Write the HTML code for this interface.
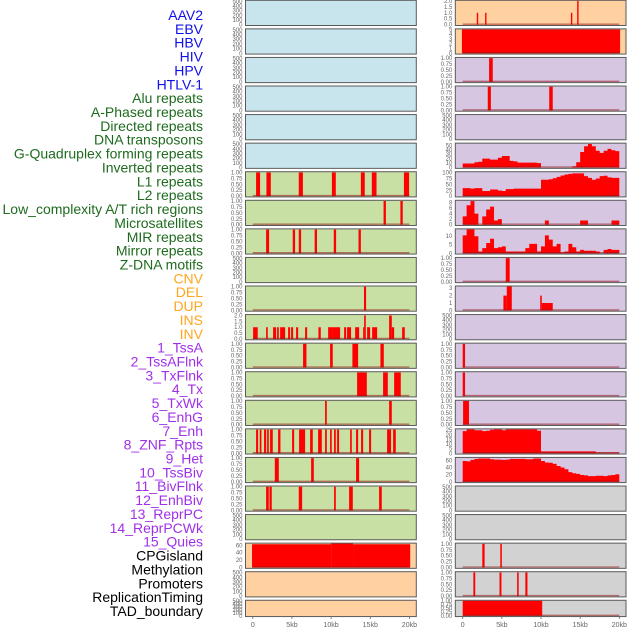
<!DOCTYPE html>
<html><head><meta charset="utf-8">
<style>
html,body{margin:0;padding:0;background:#fff;}
svg{display:block;font-family:"Liberation Sans",sans-serif;}
</style></head>
<body>
<svg id="chart" width="630" height="630" viewBox="0 0 630 630" xmlns="http://www.w3.org/2000/svg"></svg>
<script>
// ---------- data ----------
const trackLabels = ["AAV2","EBV","HBV","HIV","HPV","HTLV-1","Alu repeats","A-Phased repeats","Directed repeats","DNA transposons","G-Quadruplex forming repeats","Inverted repeats","L1 repeats","L2 repeats","Low_complexity A/T rich regions","Microsatellites","MIR repeats","Mirror repeats","Z-DNA motifs","CNV","DEL","DUP","INS","INV","1_TssA","2_TssAFlnk","3_TxFlnk","4_Tx","5_TxWk","6_EnhG","7_Enh","8_ZNF_Rpts","9_Het","10_TssBiv","11_BivFlnk","12_EnhBiv","13_ReprPC","14_ReprPCWk","15_Quies","CPGisland","Methylation","Promoters","ReplicationTiming","TAD_boundary"];
const trackGroups = ["virus","virus","virus","virus","virus","virus","repeat","repeat","repeat","repeat","repeat","repeat","repeat","repeat","repeat","repeat","repeat","repeat","repeat","sv","sv","sv","sv","sv","chrom","chrom","chrom","chrom","chrom","chrom","chrom","chrom","chrom","chrom","chrom","chrom","chrom","chrom","chrom","other","other","other","other","other"];
const xTickValues = [0,5,10,15,20];
const xTickLabels = ["0","5kb","10kb","15kb","20kb"];

// interval tracks: starts (kb), ends (kb), values
const aluStarts=[0.42,1.74,5.87,10.1,13.8,15.2,19.3], aluEnds=[0.93,2.3,6.4,10.6,14.3,15.8,19.96], aluVals=[1,1,1,1,1,1,1];
const aphStarts=[16.7,18.85], aphEnds=[17.0,19.15], aphVals=[1,1];
const dirStarts=[1.7,5.1,5.87,7.9,10.34,13.5], dirEnds=[2.08,5.4,6.17,8.2,10.64,13.8], dirVals=[1,1,1,1,1,1];
const gqStarts=[14.2], gqEnds=[14.47], gqVals=[1];
const invrStarts=[0.04,1.70,2.59,3.10,3.49,4.51,4.89,5.53,6.68,8.38,9.62,10.17,11.66,12.04,13.07,14.09,14.22,14.6,15.24,17.41,17.75,19.07];
const invrEnds=[0.63,1.91,2.98,3.32,4.13,4.76,5.15,5.79,6.94,8.68,10.17,11.15,11.92,12.55,13.58,14.22,14.43,14.98,15.88,17.75,18.05,19.41];
const invrVals=[1,1,1,1,1,1,1,1,1,1,1,1,1,1,1,1,2,1,1,2,1,1];
const l1Starts=[6.42,9.87,12.72,16.3], l1Ends=[6.85,10.21,13.45,16.73], l1Vals=[1,1,1,1];
const l2Starts=[13.32,16.64,18.05], l2Ends=[14.56,17.24,18.9], l2Vals=[1,1,1];
const lowStarts=[9.23,17.41], lowEnds=[9.45,17.75], lowVals=[1,1];
const micStarts=[0.42,0.89,1.44,1.83,2.21,3.23,5.02,5.91,7.32,8.34,9.23,9.87,10.38,10.77,12.43,13.19,13.83,14.85,17.15,17.92];
const micEnds=[0.68,1.10,1.70,2.04,2.55,3.53,5.28,6.68,7.66,8.81,9.45,10.08,10.6,11.02,12.64,13.45,14.09,15.11,17.66,18.26];
const micVals=[1,1,1,1,1,1,1,1,1,1,1,1,1,1,1,1,1,1,1,1];
const mirStarts=[2.81,7.45,13.19], mirEnds=[3.32,7.79,13.58], mirVals=[1,1,1];
const mrrStarts=[1.7,2.13,5.87,10.38,12.3,16.13], mrrEnds=[2.04,2.42,6.3,10.6,12.77,16.47], mrrVals=[1,1,1,1,1,1];
const cnvStarts=[-0.1,10.0,12.8], cnvEnds=[10.0,12.8,20.1], cnvVals=[63,65,63];
const insStarts=[1.8,2.86,13.82,14.62], insEnds=[1.98,3.04,14.0,14.8], insVals=[1,1,1,2];
const invStarts=[-0.1], invEnds=[20.1], invVals=[5];
const tssaStarts=[3.37], tssaEnds=[3.84], tssaVals=[1];
const flnkStarts=[3.2,11.05], flnkEnds=[3.6,11.5], flnkVals=[1,1];
const znfStarts=[5.5], znfEnds=[6.0], znfVals=[1];
const hetStarts=[5.2,5.63,9.9,10.1], hetEnds=[5.63,6.27,10.1,11.5], hetVals=[2,3.3,2,1];
const bivStarts=[0.0], bivEnds=[0.3], bivVals=[1];
const enhbStarts=[0.0], enhbEnds=[0.3], enhbVals=[1];
const rpcStarts=[0.05], rpcEnds=[0.8], rpcVals=[1];
const promStarts=[2.5,4.8], promEnds=[2.8,5.0], promVals=[1,1];
const repStarts=[1.36,4.7,6.95,8.0], repEnds=[1.6,4.95,7.15,8.27], repVals=[1,1,1,1];
const tadStarts=[0.0], tadEnds=[10.15], tadVals=[1];

// binned tracks (0.5 kb bins starting at 0)
const txBins=[9,9,9,12,13,20,20,18,18,22,26,26,15,14,11,11,11,11,11,10,0,0,0,0,0,0,0,0,3,12,35,48,53,48,38,33,38,42,39,37];
const txwkBins=[34,34,32,34,34,22,22,28,28,24,22,30,30,32,32,32,32,32,32,32,70,70,72,76,82,88,92,95,97,97,97,85,78,70,75,85,87,80,78,78];
const enhgBins=[3,7,8.5,4,0,3,5.5,6.5,1.5,2,0,0,0,0,0,0,0,0,0,0,0,1.5,0,0,0,0,0,0,0,0,1.5,1.5,0,0,0,0,0,0,1.5,1.5];
const enhBins=[10.5,14,14,10,1,3,6,8.5,3,3.5,4,1,1,1,1,1,3,5.5,5.5,1,4,10.5,8,4,5.5,0.5,1,5.5,3.5,1,2,1.5,1.5,1.5,1,0,2,2.5,2,2];
const rpcwkBins=[24,26,26,25,25,24,24.5,25.5,26,26,25,26,26,26,26,26,26,26,26,24.5,2,2,2,2,2,2,2,2,2,2,2,2,2,2,0.8,0.8,0.8,0.8,0.8,0.8];
const quiesBins=[58,57,61,64,65,65,65,63,62,62,61,62,64,64,64,64,63,63,65,65,58,54,53,50,44,40,35,27,24,22,19,18,16,16,17,17,16,18,19,21];

// tick sets
const ticksEmpty=[0,100,200,300,400,500], ticksUnit=[0,0.25,0.5,0.75,1], ticksTwo=[0,0.5,1,1.5,2];
const ticksFive=[0,1,2,3,4,5], ticksTx=[0,10,20,30,40,50], ticksTxwk=[0,25,50,75,100], ticksEnhg=[0,2,4,6,8];
const ticksEnh=[0,5,10], ticksHet=[0,1,2,3], ticksRpcwk=[0,5,10,15,20,25], ticksSixty=[0,20,40,60];

// ---------- layout ----------
const svg=document.getElementById('chart');
const NS='http://www.w3.org/2000/svg';
function mk(tag,attrs,parent){const e=document.createElementNS(NS,tag);for(const k in attrs)e.setAttribute(k,attrs[k]);(parent||svg).appendChild(e);return e;}
const groupColor={virus:'#1010e8',repeat:'#1e6b1e',sv:'#ffa520',chrom:'#a030e8',other:'#000000'};
const bgColor={virus:'#c8e4ec',repeat:'#c8e0a4',sv:'#ffd0a0',chrom:'#d6c6e2',other:'#d2d2d2'};

// labels
for(let i=0;i<trackLabels.length;i++){
  const t=mk('text',{x:203,y:15+i*13.86+5,'text-anchor':'end','font-size':'14',fill:groupColor[trackGroups[i]]});
  
  
  t.textContent=trackLabels[i];
}

const cols=[{px0:245.5,px1:416.3,x0:252.8},{px0:455.3,px1:626,x0:462.7}];
const kbPx=7.83;
function xs(col,kb){return cols[col].x0+kb*kbPx;}

// panel specs: track index -> [ticks, ymax, type, data...]
const panelSpecs=[
 [ticksEmpty,520,'none'],[ticksEmpty,520,'none'],[ticksEmpty,520,'none'],[ticksEmpty,520,'none'],[ticksEmpty,520,'none'],[ticksEmpty,520,'none'],
 [ticksUnit,1.03,'iv',aluStarts,aluEnds,aluVals],
 [ticksUnit,1.03,'iv',aphStarts,aphEnds,aphVals],
 [ticksUnit,1.03,'iv',dirStarts,dirEnds,dirVals],
 [ticksEmpty,520,'none'],
 [ticksUnit,1.03,'iv',gqStarts,gqEnds,gqVals],
 [ticksTwo,2.08,'iv',invrStarts,invrEnds,invrVals],
 [ticksUnit,1.03,'iv',l1Starts,l1Ends,l1Vals],
 [ticksUnit,1.03,'iv',l2Starts,l2Ends,l2Vals],
 [ticksUnit,1.03,'iv',lowStarts,lowEnds,lowVals],
 [ticksUnit,1.03,'iv',micStarts,micEnds,micVals],
 [ticksUnit,1.03,'iv',mirStarts,mirEnds,mirVals],
 [ticksUnit,1.03,'iv',mrrStarts,mrrEnds,mrrVals],
 [ticksEmpty,520,'none'],
 [ticksSixty,66,'iv',cnvStarts,cnvEnds,cnvVals],
 [ticksEmpty,520,'none'],[ticksEmpty,520,'none'],
 [ticksTwo,2.05,'iv',insStarts,insEnds,insVals],
 [ticksFive,5.1,'iv',invStarts,invEnds,invVals],
 [ticksUnit,1.03,'iv',tssaStarts,tssaEnds,tssaVals],
 [ticksUnit,1.03,'iv',flnkStarts,flnkEnds,flnkVals],
 [ticksEmpty,520,'none'],
 [ticksTx,55,'bin',txBins],
 [ticksTxwk,104,'bin',txwkBins],
 [ticksEnhg,8.8,'bin',enhgBins],
 [ticksEnh,14.3,'bin',enhBins],
 [ticksUnit,1.03,'iv',znfStarts,znfEnds,znfVals],
 [ticksHet,3.3,'iv',hetStarts,hetEnds,hetVals],
 [ticksEmpty,520,'none'],
 [ticksUnit,1.03,'iv',bivStarts,bivEnds,bivVals],
 [ticksUnit,1.03,'iv',enhbStarts,enhbEnds,enhbVals],
 [ticksUnit,1.03,'iv',rpcStarts,rpcEnds,rpcVals],
 [ticksRpcwk,26.5,'bin',rpcwkBins],
 [ticksSixty,68,'bin',quiesBins],
 [ticksEmpty,520,'none'],[ticksEmpty,520,'none'],
 [ticksUnit,1.03,'iv',promStarts,promEnds,promVals],
 [ticksUnit,1.03,'iv',repStarts,repEnds,repVals],
 [ticksUnit,1.03,'iv',tadStarts,tadEnds,tadVals]
];
function fmt(ticks,v){
  if(ticks===ticksUnit) return v.toFixed(2);
  if(ticks===ticksTwo) return v.toFixed(1);
  return String(v);
}

for(let i=0;i<trackLabels.length;i++){
  const col=i<22?0:1, row=i%22;
  const top=row*28.57+0.3;
  const h=row===21?16.3:25.2;
  const bottom=top+h;
  const c=cols[col];
  const slug=trackLabels[i].toLowerCase().replace(/[^a-z0-9]+/g,'-');
  const g=mk('g',{});
  
  
  const bg=mk('rect',{x:c.px0,y:top,width:c.px1-c.px0,height:h,fill:bgColor[trackGroups[i]]},g);
  
  
  const spec=panelSpecs[i];
  const ticks=spec[0], ymax=spec[1], type=spec[2];
  const y0=bottom-0.8, yr=(y0-top)/ymax;
  const ys=v=>y0-v*yr;
  if(type!=='none'){
    if(type==='iv'){
      const s=spec[3],e=spec[4],v=spec[5];
      for(let k=0;k<s.length;k++){
        const x1=Math.max(c.px0,xs(col,s[k])), x2=Math.min(c.px1,xs(col,e[k]));
        const r=mk('rect',{x:x1,y:ys(v[k]),width:Math.max(1.2,x2-x1),height:y0-ys(v[k]),fill:'#ff0000'},g);
        
        
      }
    } else {
      const b=spec[3];
      let d='M'+xs(col,0)+','+y0;
      for(let k=0;k<b.length;k++){
        d+=' L'+xs(col,k*0.5)+','+ys(b[k])+' L'+xs(col,(k+1)*0.5)+','+ys(b[k]);
      }
      d+=' L'+xs(col,b.length*0.5)+','+y0+' Z';
      const p=mk('path',{d:d,fill:'#ff0000'},g);
      
      
    }
    const bl=mk('line',{x1:xs(col,0),x2:xs(col,20),y1:y0-0.5,y2:y0-0.5,stroke:'rgba(150,20,20,0.55)','stroke-width':1.4},g);
    
    
  }
  const fr=mk('rect',{x:c.px0,y:top,width:c.px1-c.px0,height:h,fill:'none',stroke:'#5a5a5a','stroke-width':1},g);
  
  
  for(const tv of ticks){
    const ty=ys(tv);
    const tt=mk('text',{x:c.px0-3,y:ty+2,'text-anchor':'end','font-size':'6','fill':'#666'},g);
    
    
    tt.textContent=fmt(ticks,tv);
  }
}
// x axes
for(let col=0;col<2;col++){
  for(let k=0;k<xTickValues.length;k++){
    const x=xs(col,xTickValues[k]);
    const tl=mk('line',{x1:x,x2:x,y1:616.6,y2:619,stroke:'#666','stroke-width':0.8});
    
    
    const t=mk('text',{x:x,y:627,'text-anchor':'middle','font-size':'7',fill:'#666'});
    
    
    t.textContent=xTickLabels[k];
  }
}
</script>
</body></html>
